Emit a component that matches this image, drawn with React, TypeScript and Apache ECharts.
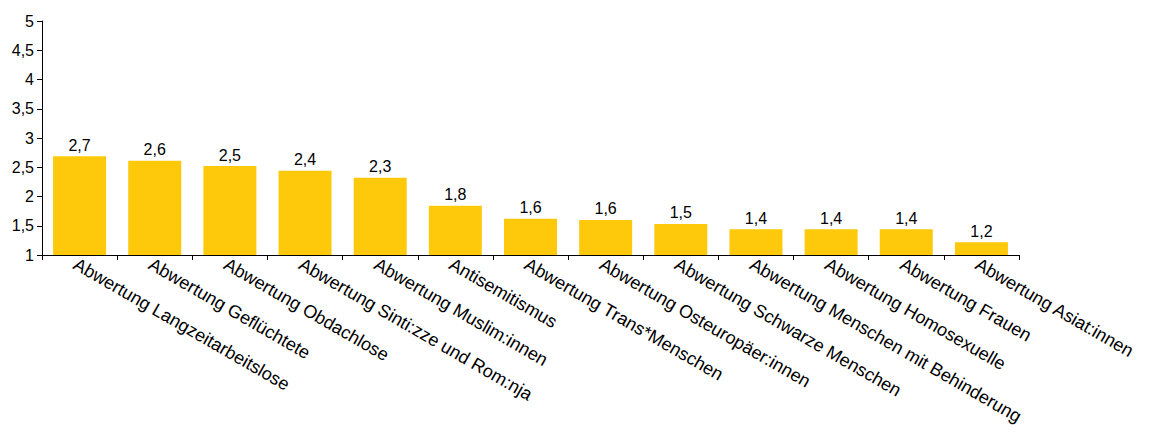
import React, { useEffect, useRef } from "react";
import * as echarts from "echarts";

const categories = [
  "Abwertung Langzeitarbeitslose",
  "Abwertung Geflüchtete",
  "Abwertung Obdachlose",
  "Abwertung Sinti:zze und Rom:nja",
  "Abwertung Muslim:innen",
  "Antisemitismus",
  "Abwertung Trans*Menschen",
  "Abwertung Osteuropäer:innen",
  "Abwertung Schwarze Menschen",
  "Abwertung Menschen mit Behinderung",
  "Abwertung Homosexuelle",
  "Abwertung Frauen",
  "Abwertung Asiat:innen",
];
const values = [2.69, 2.61, 2.52, 2.44, 2.32, 1.84, 1.62, 1.6, 1.53, 1.44, 1.44, 1.44, 1.22];
const yMin = 1;
const yMax = 5;
const yInterval = 0.5;

const fmt = (v: number, d?: number) =>
  (d === undefined ? String(v) : v.toFixed(d)).replace(".", ",");

export default function App() {
  const ref = useRef<HTMLDivElement>(null);
  useEffect(() => {
    if (!ref.current) return;
    const chart = echarts.init(ref.current, undefined, { renderer: "svg" });
    const font = "'Liberation Sans', Arial, Helvetica, sans-serif";
    chart.setOption({
      animation: false,
      grid: {
        left: 34,
        right: 122,
        top: 13,
        bottom: 171,
        containLabel: false,
        outerBoundsMode: "none",
      },
      xAxis: {
        type: "category",
        data: categories,
        axisLine: { lineStyle: { color: "#000", width: 1 } },
        axisTick: { show: true, alignWithLabel: false, length: 5, lineStyle: { color: "#000" } },
        axisLabel: {
          rotate: -30,
          interval: 0,
          color: "#000",
          fontSize: 18,
          fontFamily: font,
          margin: 0,
          verticalAlign: "top",
          padding: [0, 0, 0, 0],
        },
      },
      yAxis: {
        type: "value",
        min: yMin,
        max: yMax,
        interval: yInterval,
        splitLine: { show: false },
        axisLine: { show: true, lineStyle: { color: "#000", width: 1 } },
        axisTick: { show: true, length: 5, lineStyle: { color: "#000" } },
        axisLabel: {
          color: "#000",
          fontSize: 16,
          fontFamily: font,
          margin: 8,
          formatter: (v: number) => fmt(v),
        },
      },
      series: [
        {
          type: "bar",
          data: values,
          barWidth: 53,
          itemStyle: { color: "#fec80b" },
          label: {
            show: true,
            position: "top",
            distance: 3,
            color: "#000",
            fontSize: 16,
            fontFamily: font,
            formatter: (p: any) => fmt(p.value, 1),
          },
        },
      ],
    });
    return () => chart.dispose();
  }, []);
  return <div ref={ref} style={{ width: 1133, height: 418 }} />;
}
